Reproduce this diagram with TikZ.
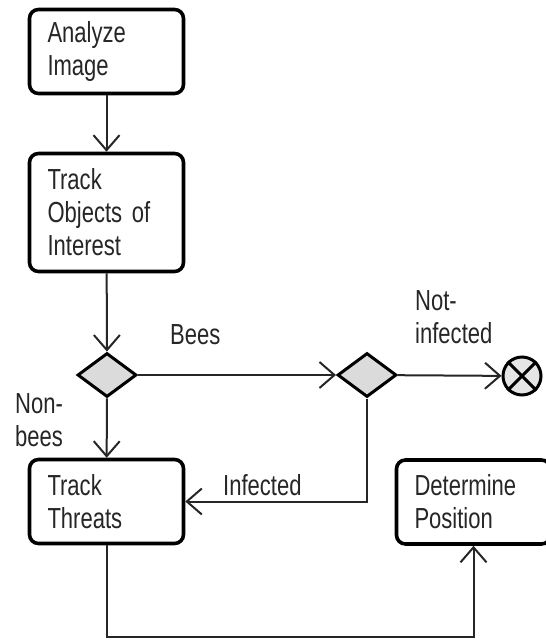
\documentclass[tikz,border=0pt]{standalone}
\usepackage{fontspec}
\setmainfont{Liberation Sans}[FakeStretch=0.76]
\usetikzlibrary{shapes.geometric,arrows.meta}

\begin{document}
\begin{tikzpicture}[x=1pt,y=-1pt, every node/.style={font=\fontsize{29}{33}\selectfont, text=black!85},
    activity/.style={draw=black, line width=3.6pt, rounded corners=9pt, fill=white, align=left, text width=118pt, inner xsep=18pt, inner ysep=0pt, minimum height=#1},
    choice/.style={draw=black, diamond, fill=black!14, line width=3pt, minimum width=59pt, minimum height=44pt, inner sep=0pt},
    endmark/.style={draw=black, circle, fill=black!10, line width=3pt, minimum size=38pt, inner sep=0pt},
    flow/.style={draw=black!85, line width=2pt, -{Straight Barb[length=15pt, width=26pt]}},
    lbl/.style={align=left, inner sep=0pt, anchor=west}]
    \useasboundingbox (0,0) rectangle (546,640);
    \node[activity=84pt] (analyze) at (106.5,51.5) {Analyze\\Image};
    \node[activity=118pt] (objects) at (106.5,212.5) {Track\\Objects of\\Interest};
    \node[choice] (bees) at (107,375) {};
    \node[choice] (infection) at (367,375) {};
    \node[endmark] (final) at (522,376) {};
    \node[activity=84pt] (threats) at (106.5,501.5) {Track\\Threats};
    \node[activity=84pt] (position) at (473.5,502) {Determine\\Position};
    \coordinate (low) at (106.5,637);
    % branch labels
    \node[lbl] (lbees) at (170,335) {Bees};
    \node[lbl] (lnot) at (415,317) {Not-\\infected};
    \node[lbl] (lnon) at (15,420) {Non-\\bees};
    \node[lbl] (linf) at (223,485) {Infected};
    \draw[line width=3pt] (final.north west) -- (final.south east) (final.north east) -- (final.south west);
    \draw[flow] (analyze) -- (objects);
    \draw[flow] (objects) -- (bees);
    \draw[flow] (bees) -- (infection);
    \draw[flow] (infection) -- (final);
    \draw[flow] (bees) -- (threats);
    \draw[flow] (infection) |- (threats);
    \draw[flow] (threats) -- (low) -| (position);
\end{tikzpicture}
\end{document}
